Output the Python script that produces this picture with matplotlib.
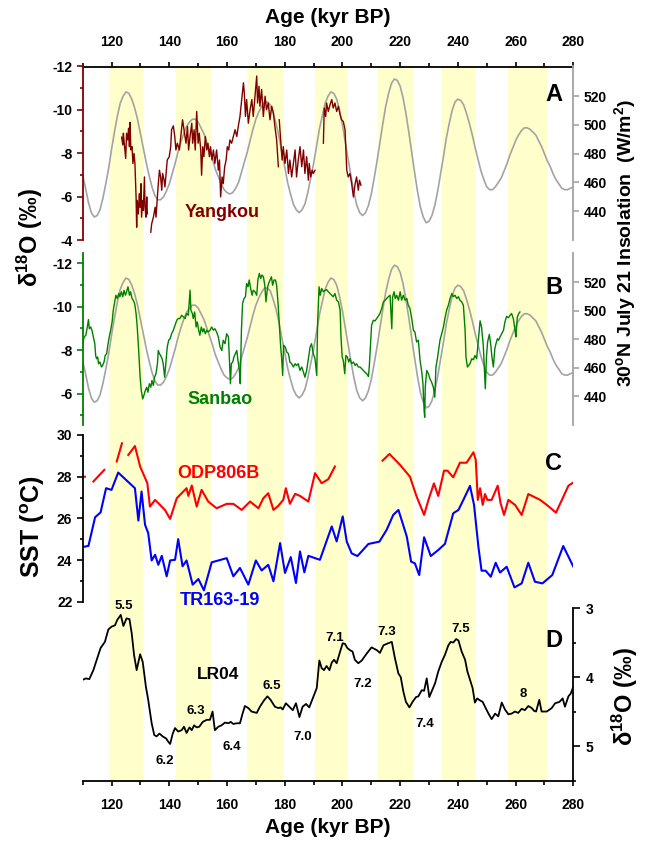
import numpy as np
import matplotlib
matplotlib.use("Agg")
import matplotlib.pyplot as plt
from matplotlib.ticker import MultipleLocator

plt.rcParams['font.family'] = ['Liberation Sans', 'DejaVu Sans']
plt.rcParams['font.weight'] = 'bold'
plt.rcParams['axes.unicode_minus'] = False
plt.rcParams['mathtext.fontset'] = 'custom'
plt.rcParams['mathtext.rm'] = 'Liberation Sans:bold'
plt.rcParams['mathtext.bf'] = 'Liberation Sans:bold'
plt.rcParams['mathtext.default'] = 'bf'

nan = np.nan

# ---- values ----
# glacial intervals (yellow bands), kyr BP
band_start = [119.2, 142.3, 167.0, 190.6, 212.4, 234.5, 257.4]
band_end = [131.0, 154.3, 179.3, 201.7, 224.3, 245.9, 270.8]

# 30N July 21 insolation (W/m2), every 1 kyr from 110 to 280
insol_age = list(range(110, 281))
insol_wm2 = [465, 456, 446, 439, 436, 437, 441, 449, 459, 470,
             483, 495, 506, 515, 520, 523, 522, 518, 512, 504,
             494, 484, 474, 465, 457, 451, 448, 448, 450, 454,
             459, 466, 473, 481, 488, 494, 499, 502, 504, 504,
             502, 498, 494, 488, 482, 476, 469, 464, 459, 455,
             453, 452, 453, 456, 460, 467, 474, 481, 489, 497,
             504, 509, 513, 516, 516, 514, 508, 501, 492, 481,
             471, 460, 452, 445, 441, 439, 441, 445, 453, 463,
             473, 485, 497, 506, 515, 520, 523, 522, 518, 510,
             500, 488, 476, 464, 453, 444, 439, 437, 439, 444,
             452, 463, 475, 488, 501, 513, 522, 529, 532, 531,
             527, 519, 508, 495, 481, 467, 454, 443, 436, 432,
             433, 437, 444, 454, 466, 478, 491, 501, 510, 516,
             518, 517, 514, 508, 501, 493, 484, 476, 468, 462,
             457, 455, 455, 457, 460, 463, 468, 473, 479, 484,
             489, 493, 496, 498, 498, 497, 495, 493, 489, 485,
             480, 475, 471, 466, 462, 459, 456, 455, 455, 456,
             457]

# Yangkou speleothem d18O (nan = gap)
yangkou_age = [123.5, 123.9, 124.1, 124.4, 124.9, 125.2, 125.6, 125.9, 126.2, 126.4,
               126.7, 127.1, 127.4, 127.8, 128.1, 128.5, 128.7, 128.9, 129.3, 129.6,
               129.9, 130.2, 130.4, 130.8, 131.0, 131.4, 131.6, 131.9, 132.2, 132.4, nan,
               133.6, 133.9, 134.5, 135.1, 135.4, 135.9, 136.2, 136.6, 137.0, 137.4,
               137.7, 138.2, 138.5, 138.9, 139.3, 140.0, 140.5, 140.8, 141.4, 141.9,
               142.3, 142.8, 143.5, 144.0, 144.6, 145.1, 145.8, 146.3, 146.7, 147.2,
               147.8, 148.1, 148.6, 149.0, 149.5, 150.0, 150.4, 150.9, 151.2, 151.6,
               152.0, 152.5, 153.0, 153.4, 153.9, 154.3, 154.8, 155.3, 155.8, 156.4,
               157.0, 157.4, 157.8, 158.3, 158.7, 159.2, 159.7, 160.1, 160.6, 161.0,
               161.6, 162.2, 162.8, 163.4, 163.9, 164.5, 165.1, 165.7, 166.0, 166.4,
               166.8, 167.4, 168.0, 168.6, 169.1, 169.7, 170.3, 170.6, 171.1, 171.4,
               172.0, 172.6, 173.2, 173.7, 174.3, 174.9, 175.5, 176.1, 176.6, 177.2,
               177.8, nan,
               178.1, 178.6, 179.1, 179.5, 180.1, 180.7, 181.3, 181.8, 182.4, 183.0,
               183.6, 184.1, 184.7, 185.3, 185.9, 186.5, 187.0, 187.6, 188.2, 188.5,
               189.0, 189.5, 189.9, 190.5, nan,
               193.4, 193.7, 194.2, 194.5, 195.1, 195.7, 196.3, 196.8, 197.4, 198.0,
               198.6, 199.2, 199.7, 200.3, 200.9, 201.2, 201.5, 202.0, 202.6, 203.2,
               203.8, 204.4, 204.9, 205.5, 205.9, 206.4]
yangkou_d18o = [-8.73, -8.37, -8.91, -8.45, -7.75, -8.91, -8.60, -9.14, -8.29, -9.41,
                -8.14, -8.29, -7.52, -7.98, -7.52, -5.98, -4.59, -5.82, -5.20, -6.13,
                -5.51, -6.59, -5.05, -5.82, -5.36, -6.90, -5.51, -5.05, -5.98, -5.20, nan,
                -4.36, -4.74, -5.05, -5.51, -5.05, -5.98, -6.59, -7.21, -6.90, -6.29,
                -7.06, -6.75, -6.44, -7.06, -7.68, -7.83, -8.29, -9.07, -9.25, -8.76,
                -8.14, -8.45, -8.14, -8.76, -9.53, -9.07, -8.45, -9.22, -8.14, -8.76,
                -9.37, -8.45, -9.07, -8.14, -9.91, -8.45, -8.91, -8.14, -6.98, -8.29,
                -7.83, -8.76, -8.14, -8.45, -7.83, -8.29, -7.68, -8.14, -7.52, -8.14,
                -7.21, -7.68, -5.98, -6.90, -6.59, -7.37, -7.68, -8.29, -8.14, -8.60,
                -8.45, -8.76, -9.07, -8.76, -9.22, -9.68, -10.46, -11.23, -10.76, -9.68,
                -10.46, -9.37, -9.99, -10.46, -9.68, -10.61, -11.54, -10.30, -11.07, -10.15,
                -10.92, -9.68, -10.61, -9.99, -10.30, -9.53, -10.15, -9.84, -9.22, -8.60,
                -7.37, nan,
                -9.53, -8.60, -7.68, -8.29, -7.52, -8.14, -7.06, -7.68, -6.90, -7.52,
                -8.14, -6.90, -7.68, -8.29, -7.37, -8.14, -7.06, -7.83, -6.75, -7.52,
                -6.90, -7.21, -7.06, -7.21, nan,
                -8.45, -10.07, -9.68, -10.30, -9.91, -10.22, -10.46, -10.07, -10.30, -9.91,
                -10.15, -9.76, -9.53, -9.45, -9.07, -8.14, -7.21, -6.90, -7.06, -6.59,
                -5.98, -6.59, -6.90, -6.29, -6.75, -6.52]

# Sanbao speleothem d18O
sanbao_age = [110.0, 110.5, 111.1, 111.6, 112.0, 112.3, 112.8, 113.2, 113.7, 114.2,
              114.5, 114.8, 115.2, 115.5, 116.0, 116.5, 116.9, 117.4, 117.8, 118.3,
              118.8, 119.2, 119.7, 120.2, 120.6, 121.1, 121.5, 122.0, 122.5, 122.9,
              123.4, 123.9, 124.3, 124.8, 125.2, 125.7, 126.2, 126.6, 127.1, 127.5,
              128.0, 128.5, 128.9, 129.4, 129.9, 130.3, 130.8, 131.2, 131.7, 132.2,
              132.6, 133.1, 133.6, 134.0, 134.5, 134.9, 135.4, 135.9, 136.2, 136.6,
              137.0, 137.5, 137.9, 138.4, 138.9, 139.3, 139.8, 140.3, 140.8, 141.4,
              142.0, 142.6, 143.1, 143.7, 144.3, 144.9, 145.5, 146.0, 146.6, 147.2,
              147.5, 148.0, 148.3, 148.8, 149.3, 149.7, 150.2, 150.6, 151.1, 151.6,
              152.0, 152.5, 153.0, 153.5, 154.1, 154.7, 155.3, 155.8, 156.4, 157.0,
              157.6, 158.2, 158.7, 159.3, 159.9, 160.5, 160.8, 161.2, 161.5, 162.0,
              162.4, 162.9, 163.4, 163.8, 164.3, 164.6, 165.0, 165.4, 165.9, 166.4,
              166.8, 167.3, 167.7, 168.2, 168.7, 169.1, 169.7, 170.3, 170.7, 171.2,
              171.7, 172.1, 172.6, 173.1, 173.5, 174.0, 174.4, 174.9, 175.4, 175.8,
              176.3, 176.8, 177.2, 177.7, 178.1, 178.6, 178.9, 179.3, 179.6, 180.2,
              180.7, 181.3, 181.8, 182.4, 183.0, 183.6, 184.1, 184.7, 185.3, 185.9,
              186.5, 187.0, 187.6, 188.2, 188.8, 189.3, 189.9, 190.5, 191.1, 191.4,
              191.9, 192.3, 192.8, 193.4, 194.0, 194.5, 195.1, 195.7, 196.3, 196.8,
              197.4, 198.0, 198.6, 199.2, 199.5, 199.9, 200.3, 200.8, 201.2, 201.7,
              202.2, 202.6, 203.2, 203.8, 204.4, 204.9, 205.5, 206.1, 207.2, 207.8,
              208.4, 209.0, 209.3, 209.7, 210.1, 210.7, 211.3, 211.9, 212.4, 213.0,
              213.6, 214.2, 214.8, 215.3, 215.9, 216.5, 217.1, 217.4, 217.9, 218.3,
              218.8, 219.4, 220.0, 220.5, 221.1, 221.7, 222.3, 222.8, 223.4, 224.0,
              224.6, 225.1, 225.7, 226.3, 226.9, 227.5, 227.9, 228.3, 228.5, 228.7,
              229.2, 229.8, 230.3, 230.9, 231.5, 232.0, 232.4, 232.9, 233.3, 233.8,
              234.4, 235.0, 235.5, 236.1, 236.7, 237.3, 237.9, 238.4, 239.0, 239.6,
              240.2, 240.7, 241.3, 241.9, 242.5, 242.8, 243.3, 243.7, 244.2, 244.8,
              245.4, 245.9, 246.5, 247.1, 247.7, 248.2, 248.8, 249.2, 249.5, 249.9,
              250.3, 250.9, 251.4, 251.8, 252.3, 252.8, 253.2, 253.7, 254.1, 254.6,
              255.2, 255.8, 256.3, 256.9, 257.5, 258.1, 258.6, 259.2, 259.8, 260.1,
              260.6, 261.1, 261.5]
sanbao_d18o = [-8.29, -8.60, -8.68, -9.06, -9.40, -8.98, -9.06, -8.91, -8.60, -8.29,
               -7.75, -7.60, -7.68, -7.37, -7.45, -7.22, -7.29, -7.45, -7.75, -7.83,
               -8.29, -8.60, -8.91, -9.29, -9.83, -10.22, -10.52, -10.37, -10.60, -10.45,
               -10.68, -10.45, -10.75, -10.52, -10.68, -10.91, -10.52, -10.68, -10.37, -10.29,
               -10.14, -9.68, -9.06, -7.98, -6.75, -6.14, -5.75, -5.91, -6.14, -6.29,
               -6.06, -6.45, -6.29, -6.60, -6.37, -6.75, -6.91, -7.37, -7.98, -7.83,
               -7.75, -7.60, -7.37, -6.75, -7.52, -8.14, -8.45, -8.52, -8.75, -8.91,
               -9.14, -9.37, -9.45, -9.45, -9.60, -9.52, -9.45, -9.68, -9.60, -10.75,
               -9.83, -9.68, -9.45, -9.75, -9.06, -9.29, -8.91, -8.68, -9.06, -8.83,
               -8.98, -8.75, -8.91, -8.83, -8.91, -9.06, -8.91, -8.98, -8.83, -8.60,
               -8.14, -7.98, -8.45, -8.29, -8.75, -8.60, -7.68, -6.45, -7.37, -7.45,
               -7.68, -7.83, -7.98, -7.52, -7.06, -6.45, -8.91, -10.14, -10.37, -10.45,
               -11.06, -10.91, -11.22, -10.83, -10.52, -10.75, -10.68, -10.52, -11.22, -11.52,
               -11.29, -11.45, -11.37, -10.98, -10.22, -10.83, -11.06, -11.22, -11.37, -10.98,
               -11.22, -11.22, -10.98, -10.14, -9.22, -8.14, -7.68, -6.83, -8.22, -8.14,
               -7.91, -7.83, -7.45, -7.37, -7.22, -7.37, -7.29, -7.37, -7.06, -7.22,
               -6.98, -6.75, -7.06, -7.60, -8.14, -8.29, -7.83, -7.60, -6.83, -9.22,
               -10.91, -10.52, -10.83, -10.68, -10.75, -10.78, -10.68, -10.60, -10.52, -10.45,
               -10.60, -10.29, -10.22, -9.83, -8.60, -7.68, -7.52, -6.91, -7.75, -7.68,
               -7.45, -7.60, -7.37, -7.45, -7.29, -7.37, -7.22, -7.22, -7.06, -6.98,
               -6.91, -6.78, -7.22, -8.14, -9.14, -9.37, -9.34, -9.45, -9.55, -9.68,
               -9.91, -10.22, -10.29, -10.37, -10.45, -10.52, -8.98, -10.45, -10.68, -10.37,
               -10.52, -10.29, -10.68, -10.29, -10.52, -10.29, -10.37, -10.06, -9.91, -9.45,
               -8.91, -8.83, -8.37, -8.45, -7.52, -6.98, -6.45, -5.22, -4.91, -6.29,
               -7.06, -6.91, -6.68, -6.52, -6.29, -5.83, -7.22, -7.60, -7.98, -8.45,
               -8.75, -9.06, -9.45, -9.83, -10.06, -10.37, -10.60, -10.45, -10.52, -10.37,
               -10.45, -10.29, -10.22, -10.06, -8.91, -7.68, -7.22, -7.29, -7.37, -7.60,
               -7.55, -7.75, -7.60, -8.45, -9.34, -9.06, -8.22, -7.06, -6.22, -7.68,
               -8.37, -8.72, -8.22, -7.68, -7.22, -8.06, -8.29, -8.52, -8.45, -8.60,
               -8.75, -8.91, -9.29, -9.55, -9.49, -9.60, -9.68, -9.45, -8.91, -8.60,
               -9.52, -9.68, -9.75]

# ODP806B SST (degC)
odp_age = [110.0, 110.8, nan, 113.7, 117.5, nan, 121.8, 123.6, nan,
           125.8, 128.1, 129.9, 132.4, 133.3, 135.1, 136.8, 138.5, 140.3, 142.6,
           144.3, 146.0, 146.6, 147.8, 149.5, 151.2, 153.5, 156.4, 159.9, 162.2,
           165.1, 168.0, 170.9, 172.6, 174.3, 176.1, 177.8, 179.5, 180.4, 181.8,
           183.6, 185.3, 188.2, 190.5, 192.8, 195.1, 197.4, nan,
           213.9, 216.3, 220.0, 223.4, 225.7, 228.3, 229.8, 231.7, 233.2, 235.2,
           236.4, 238.4, 240.7, 243.0, 245.4, 246.2, 246.9, 247.7, 248.6, 249.4,
           250.2, 251.7, 253.8, 254.8, 256.0, 257.5, 259.8, 262.1, 264.4, 268.5,
           270.8, 274.0, 278.3, 280.3]
odp_sst = [28.0, 28.0, nan, 27.77, 28.33, nan, 28.73, 29.6, nan,
           29.04, 29.47, 28.49, 27.69, 26.57, 26.89, 26.65, 26.41, 25.98, 26.97,
           27.21, 27.45, 27.08, 27.58, 26.57, 27.37, 26.81, 26.49, 26.70, 26.70,
           26.41, 26.81, 26.49, 26.97, 27.21, 26.41, 26.61, 26.89, 27.45, 26.70,
           27.18, 27.08, 26.81, 28.17, 27.69, 27.88, 28.49, nan,
           28.77, 29.09, 28.56, 28.0, 27.05, 26.17, 26.89, 27.68, 27.08, 28.29,
           28.29, 27.97, 28.67, 28.67, 29.17, 28.8, 26.89, 27.45, 26.65, 27.17,
           26.89, 26.89, 27.57, 26.73, 26.17, 26.89, 26.65, 26.17, 27.17, 26.89,
           26.65, 26.28, 27.57, 27.75]

# TR163-19 SST (degC)
tr_age = [110.0, 112.0, 114.3, 116.2, 118.1, 120.0, 122.3, 128.1, 129.3, 130.4,
          131.6, 132.7, 133.9, 135.1, 136.2, 137.4, 139.1, 140.3, 142.0, 143.1,
          144.6, 146.0, 148.1, 150.1, 152.0, 154.7, 159.9, 162.2, 164.5, 167.4,
          170.0, 172.0, 174.3, 176.1, 178.4, 180.1, 182.1, 183.9, 185.3, 186.8,
          188.2, 192.2, 196.3, 198.0, 200.1, 201.5, 203.2, 205.2, 209.0, 212.8,
          215.3, 217.6, 219.4, 220.5, 222.3, 223.8, 225.1, 226.6, 228.3, 230.6,
          233.2, 235.5, 238.4, 240.2, 241.9, 244.2, 245.6, 247.1, 248.2, 249.6,
          251.4, 253.1, 254.6, 256.9, 259.6, 262.1, 264.4, 266.7, 269.3, 272.7,
          276.5, 280.3]
tr_sst = [24.63, 24.69, 26.06, 26.29, 27.45, 27.37, 28.2, 27.45, 25.9, 27.29,
          25.7, 25.3, 23.99, 24.26, 23.78, 24.21, 23.23, 23.99, 24.02, 25.01,
          23.71, 23.99, 22.83, 23.1, 22.56, 23.9, 24.1, 23.23, 23.63, 22.83,
          23.99, 23.51, 23.78, 22.99, 24.82, 23.39, 24.15, 22.91, 24.42, 23.42,
          24.21, 24.02, 25.62, 24.9, 26.1, 24.89, 24.33, 24.2, 24.78, 24.89,
          25.45, 26.17, 26.41, 25.93, 25.13, 23.93, 23.85, 23.29, 25.1, 24.2,
          24.49, 24.78, 26.25, 26.41, 26.89, 27.56, 26.65, 24.65, 23.5, 23.5,
          23.21, 23.88, 23.41, 23.69, 22.7, 22.89, 23.88, 22.97, 22.89, 23.29,
          24.68, 23.61]

# LR04 benthic stack d18O (permil)
lr04_age = [110.0, 111.1, 112.3, 113.7, 115.4, 116.2, 117.7, 118.9, 120.0, 121.2,
            122.0, 123.2, 124.1, 125.2, 126.2, 127.0, 127.8, 128.7, 129.9, 130.8,
            131.9, 132.7, 133.9, 134.8, 135.6, 136.6, 137.7, 138.9, 139.7, 140.3,
            141.2, 142.0, 143.1, 144.3, 145.1, 146.0, 147.0, 147.8, 148.6, 149.5,
            150.4, 151.6, 153.0, 154.1, 155.0, 155.8, 157.0, 158.1, 159.3, 160.5,
            161.3, 162.2, 163.4, 164.5, 165.4, 166.2, 167.4, 168.5, 170.3, 171.4,
            172.8, 174.0, 175.1, 176.6, 177.8, 178.6, 179.3, 180.4, 181.6, 182.8,
            183.9, 185.1, 186.2, 187.4, 188.5, 189.9, 191.1, 192.0, 192.8, 193.6,
            194.5, 195.5, 196.3, 197.1, 198.0, 199.2, 200.1, 200.9, 201.7, 202.6,
            203.5, 204.3, 205.5, 206.7, 208.4, 210.1, 211.9, 213.0, 214.2, 215.3,
            217.1, 218.2, 219.4, 220.2, 221.1, 222.0, 223.2, 224.3, 225.5, 226.3,
            227.5, 228.3, 229.2, 230.1, 230.9, 232.1, 233.2, 234.4, 235.5, 236.7,
            237.5, 238.4, 239.4, 240.2, 241.3, 242.5, 243.3, 244.2, 245.1, 245.9,
            246.7, 247.7, 248.6, 249.4, 250.6, 251.7, 252.9, 254.0, 255.2, 256.3,
            257.5, 258.6, 259.8, 260.9, 262.1, 263.2, 264.4, 265.6, 266.4, 267.1,
            268.2, 269.0, 270.8, 272.5, 273.7, 275.2, 276.3, 277.1, 278.3, 279.1,
            280.0]
lr04_d18o = [4.04, 4.02, 4.03, 3.9, 3.68, 3.58, 3.49, 3.31, 3.27, 3.25,
             3.17, 3.1, 3.26, 3.15, 3.16, 3.37, 3.68, 3.9, 3.67, 3.78,
             4.14, 4.33, 4.67, 4.84, 4.86, 4.82, 4.86, 4.89, 4.94, 4.97,
             4.82, 4.74, 4.79, 4.77, 4.72, 4.81, 4.73, 4.77, 4.7, 4.73,
             4.72, 4.65, 4.62, 4.62, 4.5, 4.77, 4.72, 4.7, 4.66, 4.67,
             4.65, 4.68, 4.67, 4.67, 4.53, 4.42, 4.45, 4.5, 4.52, 4.43,
             4.34, 4.28, 4.33, 4.43, 4.45, 4.44, 4.47, 4.38, 4.43, 4.48,
             4.38, 4.58, 4.43, 4.39, 4.44, 4.29, 4.16, 3.76, 3.87, 3.9,
             3.84, 3.9, 3.79, 3.75, 3.8, 3.63, 3.51, 3.52, 3.58, 3.61,
             3.63, 3.75, 3.8, 3.76, 3.66, 3.57, 3.61, 3.65, 3.54, 3.52,
             3.49, 3.73, 3.95, 4.0, 4.21, 4.36, 4.44, 4.36, 4.29, 4.28,
             4.19, 4.2, 4.02, 4.29, 4.21, 4.09, 3.92, 3.78, 3.68, 3.54,
             3.49, 3.5, 3.45, 3.47, 3.63, 3.75, 3.92, 4.04, 4.16, 4.37,
             4.31, 4.34, 4.36, 4.43, 4.53, 4.61, 4.53, 4.57, 4.37, 4.47,
             4.54, 4.53, 4.5, 4.52, 4.46, 4.48, 4.42, 4.45, 4.49, 4.5,
             4.33, 4.5, 4.5, 4.45, 4.38, 4.36, 4.31, 4.43, 4.28, 4.24,
             4.14]

# marine isotope stage labels
stage_names = ['5.5', '6.2', '6.3', '6.4', '6.5', '7.0', '7.1', '7.2', '7.3', '7.4', '7.5', '8']
stage_x = [124.4, 138.5, 149.3, 161.8, 175.5, 186.1, 197.4, 207.1, 215.2, 228.6, 240.8, 262.6]
stage_y = [2.97, 5.22, 4.49, 5.02, 4.13, 4.87, 3.43, 4.10, 3.34, 4.68, 3.30, 4.25]

# ---- styles ----
c_yk = '#800000'
c_sb = '#008000'
c_odp = '#FF0000'
c_tr = '#0000FF'
c_ins = '#A3A3A3'
c_band = '#FFFFCC'

fig = plt.figure(figsize=(6.49, 8.41), dpi=100)
x0, w = 0.1274, 0.7560

# background: bands + top/bottom age axes
bg = fig.add_axes([x0, 0.0719, w, 0.8490])
bg.set_xlim(110, 280)
bg.set_ylim(0, 1)
for a, b in zip(band_start, band_end):
    bg.axvspan(a, b, color=c_band, lw=0)
bg.spines['left'].set_visible(False)
bg.spines['right'].set_visible(False)
bg.spines['top'].set_linewidth(1.3)
bg.spines['bottom'].set_linewidth(1.3)
bg.set_yticks([])
bg.xaxis.set_major_locator(MultipleLocator(20))
bg.xaxis.set_minor_locator(MultipleLocator(10))
bg.tick_params(axis='x', which='both', top=True, bottom=True, labeltop=True,
               labelbottom=True, direction='out', width=1.2, labelsize=10, pad=9)
bg.tick_params(axis='x', which='major', length=3.5)
bg.tick_params(axis='x', which='minor', length=3)


def panel(rect, side, color):
    ax = fig.add_axes(rect)
    ax.patch.set_visible(False)
    for s in ax.spines.values():
        s.set_visible(False)
    ax.spines[side].set_visible(True)
    ax.spines[side].set_color(color)
    ax.spines[side].set_linewidth(1.3)
    ax.set_xlim(110, 280)
    ax.set_xticks([])
    if side == 'right':
        ax.yaxis.tick_right()
    else:
        ax.yaxis.tick_left()
    ax.tick_params(axis='y', which='both', direction='out', color=color, width=1.2,
                   labelsize=10)
    ax.tick_params(axis='y', which='major', length=4.5, pad=3)
    ax.tick_params(axis='y', which='minor', length=2.5)
    return ax


rA = [x0, 0.7146, w, 0.2069]
rB = [x0, 0.4946, w, 0.2045]
rC = [x0, 0.2842, w, 0.1986]
rD = [x0, 0.0719, w, 0.2051]

# A: insolation + Yangkou
axAi = panel(rA, 'right', c_ins)
axAi.plot(insol_age, insol_wm2, color=c_ins, lw=1.2)
axAi.set_ylim(420, 541)
axAi.set_yticks([440, 460, 480, 500, 520])

axA = panel(rA, 'left', c_yk)
axA.plot(yangkou_age, yangkou_d18o, color=c_yk, lw=1.0)
axA.set_ylim(-4, -12)
axA.yaxis.set_major_locator(MultipleLocator(2))
axA.yaxis.set_minor_locator(MultipleLocator(1))
axA.text(158.2, -5.26, 'Yangkou', color=c_yk, fontsize=13, ha='center', va='center')
axA.text(0.96, 0.837, 'A', transform=axA.transAxes, fontsize=17, ha='center', va='center')

# B: insolation + Sanbao
axBi = panel(rB, 'right', c_ins)
axBi.plot(insol_age, insol_wm2, color=c_ins, lw=1.2)
axBi.set_ylim(420, 540.5)
axBi.set_yticks([440, 460, 480, 500, 520])

axB = panel(rB, 'left', c_sb)
axB.plot(sanbao_age, sanbao_d18o, color=c_sb, lw=1.0)
axB.set_ylim(-4.55, -12.46)
axB.yaxis.set_major_locator(MultipleLocator(2))
axB.yaxis.set_minor_locator(MultipleLocator(1))
axB.text(157.6, -5.71, 'Sanbao', color=c_sb, fontsize=13, ha='center', va='center')
axB.text(0.96, 0.80, 'B', transform=axB.transAxes, fontsize=17, ha='center', va='center')

# C: SST
axC = panel(rC, 'left', 'black')
axC.plot(odp_age, odp_sst, color=c_odp, lw=1.5)
axC.plot(tr_age, tr_sst, color=c_tr, lw=1.5)
axC.set_ylim(22, 30)
axC.yaxis.set_major_locator(MultipleLocator(2))
axC.yaxis.set_minor_locator(MultipleLocator(1))
axC.text(157.1, 28.16, 'ODP806B', color=c_odp, fontsize=13, ha='center', va='center')
axC.text(157.6, 22.08, 'TR163-19', color=c_tr, fontsize=13, ha='center', va='center')
axC.text(0.96, 0.83, 'C', transform=axC.transAxes, fontsize=17, ha='center', va='center')

# D: LR04
axD = panel(rD, 'right', 'black')
axD.plot(lr04_age, lr04_d18o, color='black', lw=1.3)
axD.set_ylim(5.5, 3)
axD.set_yticks([3, 4, 5])
axD.set_yticklabels(['3', '4', '5'])
axD.yaxis.set_minor_locator(MultipleLocator(0.5))
axD.tick_params(axis='y', which='major', length=5, pad=4)
axD.text(156.8, 3.96, 'LR04', fontsize=12.5, ha='center', va='center')
for name, sx, sy in zip(stage_names, stage_x, stage_y):
    axD.text(sx, sy, name, fontsize=9.5, ha='center', va='center')
axD.text(0.96, 0.809, 'D', transform=axD.transAxes, fontsize=17, ha='center', va='center')

# axis titles
fig.text(0.5054, 0.9786, 'Age (kyr BP)', fontsize=15, ha='center', va='center')
fig.text(0.5054, 0.0155, 'Age (kyr BP)', fontsize=15, ha='center', va='center')
fig.text(0.046, 0.717, 'δ$^{18}$O (‰)', fontsize=17, rotation=90, ha='center', va='center')
fig.text(0.051, 0.3734, 'SST ($^{o}$C)', fontsize=18, rotation=90, ha='center', va='center')
fig.text(0.963, 0.711, '30$^{o}$N July 21 Insolation  (W/m$^{2}$)', fontsize=14,
         rotation=90, ha='center', va='center')
fig.text(0.963, 0.1712, 'δ$^{18}$O (‰)', fontsize=17, rotation=90, ha='center', va='center')

fig.savefig('out.png', dpi=100)
